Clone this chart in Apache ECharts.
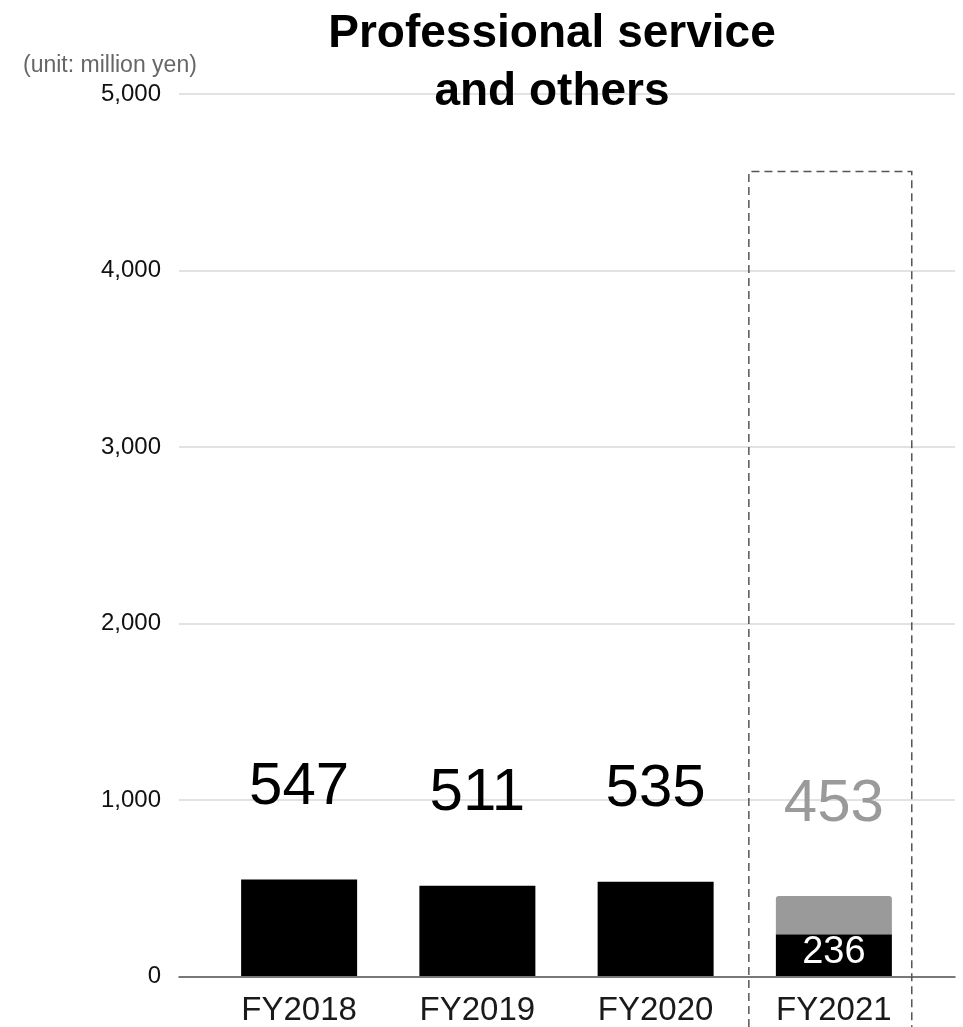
<!DOCTYPE html>
<html>
<head>
<meta charset="utf-8">
<script src="https://cdn.jsdelivr.net/npm/echarts@6/dist/echarts.min.js"></script>
<style>
html,body{margin:0;padding:0;background:#fff;}
#chart{width:963px;height:1027px;}
</style>
</head>
<body>
<div id="chart"></div>
<script>
// ---- data ----
const categories = ['FY2018', 'FY2019', 'FY2020', 'FY2021'];
const actualValues = [547, 511, 535, 236];     // black bars (FY2021: confirmed part)
const totalValues = [547, 511, 535, 453];      // totals shown as labels
const yTicks = [0, 1000, 2000, 3000, 4000, 5000];
const titleText = 'Professional service\nand others';
const unitText = '(unit: million yen)';
const highlightCategory = 'FY2021';
const highlightTopValue = 4560;

const remainderValues = totalValues.map((t, i) => (i === 3 ? t - actualValues[i] : null));

const FONT = '"Liberation Sans", Arial, Helvetica, sans-serif';
const yMin = yTicks[0], yMax = yTicks[yTicks.length - 1], yStep = yTicks[1] - yTicks[0];

const chart = echarts.init(document.getElementById('chart'));

const blackData = actualValues.map((v, i) => {
  if (i === 3) {
    return {
      value: v,
      label: {
        show: true, position: 'inside', offset: [0, -3],
        color: '#ffffff', fontSize: 38, fontFamily: FONT,
        formatter: () => String(v)
      }
    };
  }
  return {
    value: v,
    label: {
      show: true, position: 'top', distance: 62,
      color: '#000000', fontSize: 60, fontFamily: FONT,
      formatter: () => String(totalValues[i])
    }
  };
});

const unitGraphic = {
  type: 'text', left: 23, top: 54,
  style: { text: unitText, fontSize: 23, fill: '#666666', fontFamily: FONT }
};

const option = {
  animation: false,
  backgroundColor: '#ffffff',
  title: {
    text: titleText,
    left: 547, top: 0,
    textAlign: 'center',
    textStyle: { fontSize: 46, fontWeight: 'bold', color: '#000', fontFamily: FONT, lineHeight: 58 }
  },
  graphic: [unitGraphic],
  grid: [
    { left: 179, right: 8, top: 94, bottom: 50.5, containLabel: false },
    { left: 210, right: 40, top: 94, bottom: 50.5, containLabel: false }
  ],
  xAxis: [
    {
      type: 'category', gridIndex: 0, data: categories,
      axisLine: { show: true, lineStyle: { color: '#555555', width: 1.5 } },
      axisTick: { show: false }, axisLabel: { show: false }, splitLine: { show: false }
    },
    {
      type: 'category', gridIndex: 1, data: categories,
      axisLine: { show: false }, axisTick: { show: false },
      axisLabel: { show: true, margin: 18, fontSize: 33, color: '#1a1a1a', fontFamily: FONT }
    }
  ],
  yAxis: [
    {
      type: 'value', gridIndex: 0, min: yMin, max: yMax, interval: yStep,
      axisLine: { show: false }, axisTick: { show: false },
      axisLabel: {
        margin: 18, fontSize: 24, color: '#111111', fontFamily: FONT,
        formatter: (v) => v.toLocaleString('en-US')
      },
      splitLine: { show: true, lineStyle: { color: '#d9d9d9', width: 1.5 } }
    },
    {
      type: 'value', gridIndex: 1, min: yMin, max: yMax, interval: yStep,
      show: false, splitLine: { show: false }
    }
  ],
  series: [
    {
      name: 'actual', type: 'bar', xAxisIndex: 1, yAxisIndex: 1, stack: 'total',
      barWidth: 116, data: blackData,
      itemStyle: { color: '#000000' }
    },
    {
      name: 'remainder', type: 'bar', xAxisIndex: 1, yAxisIndex: 1, stack: 'total',
      barWidth: 116,
      data: remainderValues.map((v, i) => v == null ? null : {
        value: v,
        label: {
          show: true, position: 'top', distance: 62,
          color: '#9a9a9a', fontSize: 60, fontFamily: FONT,
          formatter: () => String(totalValues[i])
        }
      }),
      itemStyle: { color: '#9a9a9a', borderRadius: [3, 3, 0, 0] }
    }
  ]
};

chart.setOption(option);

// dashed highlight box around the forecast year
const idx = categories.indexOf(highlightCategory);
const cx = chart.convertToPixel({ xAxisIndex: 1 }, idx);
const band = cx - chart.convertToPixel({ xAxisIndex: 1 }, idx - 1);
const topY = chart.convertToPixel({ yAxisIndex: 1 }, highlightTopValue);
const x0 = cx - band * 0.477, x1 = cx + band * 0.437;
chart.setOption({
  graphic: [
    unitGraphic,
    {
      type: 'polyline', silent: true, z: 100,
      shape: { points: [[x0, 1040], [x0, topY], [x1, topY], [x1, 1040]] },
      style: { fill: null, stroke: '#555555', lineWidth: 1.5, lineDash: [8, 5] }
    }
  ]
});
</script>
</body>
</html>
